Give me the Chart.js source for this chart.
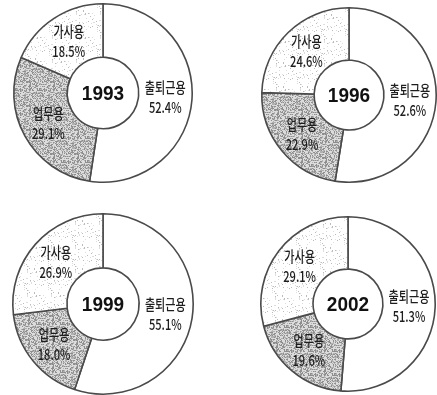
<!DOCTYPE html>
<html lang="ko">
<head>
<meta charset="utf-8">
<script src="https://cdn.jsdelivr.net/npm/chart.js@4"></script>
<style>
    html, body { margin: 0; padding: 0; background: #fff; }
    body { width: 437px; height: 395px; position: relative; overflow: hidden; }
    .ring { position: absolute; }
</style>
</head>
<body>
<div class="ring" style="left:11px; top:1px; width:184px; height:184px;"><canvas id="c0"></canvas></div>
<div class="ring" style="left:259px; top:5px; width:180px; height:180px;"><canvas id="c1"></canvas></div>
<div class="ring" style="left:10px; top:211px; width:186px; height:186px;"><canvas id="c2"></canvas></div>
<div class="ring" style="left:258px; top:214px; width:180px; height:180px;"><canvas id="c3"></canvas></div>
<script>
// Car usage share by purpose (%)
const years = ['1993', '1996', '1999', '2002'];
const categories = ['출퇴근용', '업무용', '가사용'];
const commute = [52.4, 52.6, 55.1, 51.3];
const business = [29.1, 22.9, 18.0, 19.6];
const household = [18.5, 24.6, 26.9, 29.1];

// Stippled fills like a print screen
function makeStipple(base, dots, seed) {
    const size = 24;
    const c = document.createElement('canvas');
    c.width = size; c.height = size;
    const g = c.getContext('2d');
    g.fillStyle = base;
    g.fillRect(0, 0, size, size);
    let s = seed;
    for (let y = 0; y < size; y++) {
        for (let x = 0; x < size; x++) {
            s = (s * 1103515245 + 12345) % 2147483648;
            let r = s / 2147483648;
            for (const d of dots) {
                if (r < d.p) { g.fillStyle = d.color; g.fillRect(x, y, 1, 1); break; }
                r -= d.p;
            }
        }
    }
    return g.createPattern(c, 'repeat');
}

const darkFill = makeStipple('#dcdcdc', [
    { color: '#8e8e8e', p: 0.28 },
    { color: '#b0b0b0', p: 0.25 }
], 7);
const lightFill = makeStipple('#ffffff', [
    { color: '#bcbcbc', p: 0.04 },
    { color: '#dedede', p: 0.06 }
], 31);

// Category name + value on each slice, year in the hole
const sliceLabels = {
    id: 'sliceLabels',
    afterDatasetsDraw(chart) {
        const ctx = chart.ctx;
        const meta = chart.getDatasetMeta(0);
        const values = chart.data.datasets[0].data;
        ctx.save();
        ctx.fillStyle = '#1e1e1e';
        ctx.textAlign = 'center';
        ctx.textBaseline = 'middle';
        meta.data.forEach((arc, i) => {
            const p = arc.tooltipPosition();
            ctx.save();
            ctx.translate(p.x, p.y);
            ctx.scale(0.74, 1);
            ctx.font = '500 15px "Noto Sans CJK KR"';
            ctx.fillText(chart.data.labels[i], 0, -10);
            ctx.fillText(values[i].toFixed(1) + '%', 0, 10);
            ctx.restore();
        });
        const first = meta.data[0];
        ctx.fillStyle = '#111';
        ctx.font = 'bold 20px "Liberation Sans"';
        ctx.save();
        ctx.translate(first.x, first.y + 1);
        ctx.scale(0.95, 1);
        ctx.fillText(chart.options.plugins.centerTitle, 0, 0);
        ctx.restore();
        ctx.restore();
    }
};

function createRing(idx) {
    const ctx = document.getElementById('c' + idx);
    return new Chart(ctx, {
        type: 'doughnut',
        data: {
            labels: categories,
            datasets: [{
                data: [commute[idx], business[idx], household[idx]],
                backgroundColor: ['#ffffff', darkFill, lightFill],
                borderColor: '#4a4a4a',
                borderWidth: 1.6
            }]
        },
        options: {
            responsive: true,
            maintainAspectRatio: false,
            animation: false,
            cutout: '40%',
            layout: { padding: 2 },
            events: [],
            plugins: {
                legend: { display: false },
                tooltip: { enabled: false },
                centerTitle: years[idx]
            }
        },
        plugins: [sliceLabels]
    });
}

years.forEach((y, i) => createRing(i));
</script>
</body>
</html>
